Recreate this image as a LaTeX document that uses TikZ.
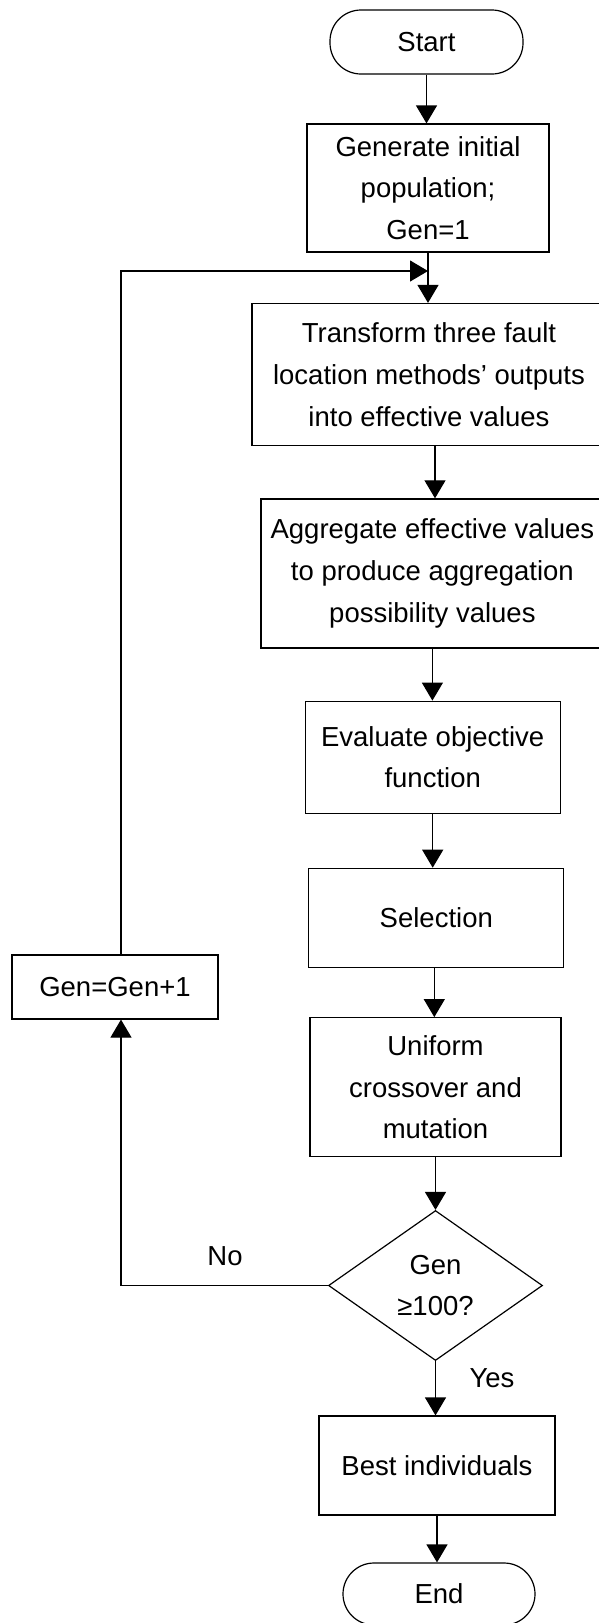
\documentclass[tikz,border=0pt]{standalone}
\usepackage{fontspec}
\setmainfont{Liberation Sans}
\usetikzlibrary{arrows.meta,shapes.geometric}

\begin{document}
\begin{tikzpicture}[x=1pt,y=-1pt,
  txt/.style={font=\fontsize{27.5pt}{41.7pt}\selectfont, align=center, inner sep=0pt},
  procbox/.style={txt, draw, line width=1.2pt, rectangle},
  termbox/.style={txt, draw, line width=1.2pt, rectangle, rounded corners=31pt},
  decbox/.style={txt, draw, line width=1.2pt, diamond, shape aspect=1.43},
  arr/.style={line width=1.2pt, -{Triangle[length=18pt,width=21pt]}},
  lbl/.style={font=\fontsize{27.5pt}{41.7pt}\selectfont, inner sep=0pt}]

\useasboundingbox (0,0) rectangle (598,1623);

% process steps
\node[termbox, minimum width=193pt, minimum height=64pt] (start) at (426.5,42) {Start};
\node[procbox, minimum width=242pt, minimum height=128pt] (init) at (428,188)
  {Generate initial\\population;\\Gen=1};
\node[procbox, minimum width=354pt, minimum height=142pt] (tr) at (429,374.5)
  {Transform three fault\\location methods’ outputs\\into effective values};
\node[procbox, minimum width=343pt, minimum height=149pt] (ag) at (432.4,573.4)
  {Aggregate effective values\\to produce aggregation\\possibility values};
\node[procbox, minimum width=255pt, minimum height=112pt] (ev) at (432.7,757.2)
  {Evaluate objective\\function};
\node[procbox, minimum width=255pt, minimum height=99pt] (sel) at (436.3,917.8) {Selection};
\node[procbox, minimum width=251pt, minimum height=139pt] (uni) at (435.5,1087.2)
  {Uniform\\crossover and\\mutation};
\node[decbox, minimum width=214pt, minimum height=150pt] (dia) at (435.5,1285.5)
  {Gen\\≥100?};
\node[procbox, minimum width=236pt, minimum height=99pt] (best) at (437,1465.5) {Best individuals};
\node[termbox, minimum width=192pt, minimum height=62pt] (end) at (439,1594) {End};
\node[procbox, minimum width=206pt, minimum height=64pt] (inc) at (115,987) {Gen=Gen+1};

% branch labels
\node[lbl] (no) at (225,1256.5) {No};
\node[lbl] (yes) at (492,1378) {Yes};

% point where the loop rejoins the main flow
\coordinate (merge) at (428,271);

% main flow
\draw[arr] (start.south) -- (start.south |- init.north);
\draw[arr] (init.south) -- (init.south |- tr.north);
\draw[arr] ([xshift=6pt]tr.south) -- ([xshift=6pt]tr.south |- ag.north);
\draw[arr] (ag.south) -- (ag.south |- ev.north);
\draw[arr] (ev.south) -- (ev.south |- sel.north);
\draw[arr] ([xshift=-2pt]sel.south) -- ([xshift=-2pt]sel.south |- uni.north);
\draw[arr] (uni.south) -- (uni.south |- dia.north);
\draw[arr] (dia.south) -- (dia.south |- best.north);
\draw[arr] (best.south) -- (best.south |- end.north);

% loop back
\draw[arr] (dia.west) -| ([xshift=6pt]inc.south);
\draw[arr] ([xshift=6pt]inc.north) |- (merge);

\end{tikzpicture}
\end{document}
